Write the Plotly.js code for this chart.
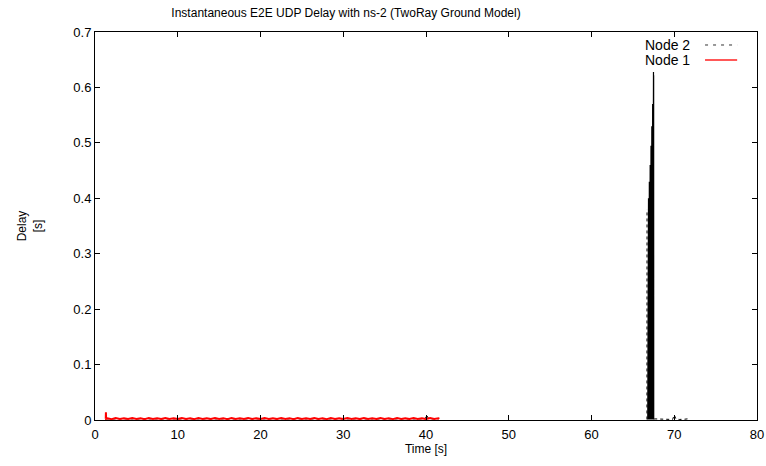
<!DOCTYPE html>
<html>
<head>
<meta charset="utf-8">
<script src="https://cdn.plot.ly/plotly-3.0.1.min.js"></script>
<style>body{margin:0;background:#fff}#chart{width:766px;height:466px}</style>
</head>
<body>
<div id="chart"></div>
<script>
// ---- Data ----
const chartTitle = "Instantaneous E2E UDP Delay with ns-2 (TwoRay Ground Model)";
const xTitle = "Time [s]";
const yTitle = "Delay<br>[s]";
const seriesNames = ["Node 2", "Node 1"];

// Node 1 (red): small delays from ~1.3 s to ~41.6 s
const node1Time = [1.30,1.32,1.34,1.5,2.0,2.5,3.0,3.5,4.0,4.5,5.0,5.5,6.0,6.5,7.0,7.5,8.0,8.5,9.0,9.5,10.0,10.5,11.0,11.5,12.0,12.5,13.0,13.5,14.0,14.5,15.0,15.5,16.0,16.5,17.0,17.5,18.0,18.5,19.0,19.5,20.0,20.5,21.0,21.5,22.0,22.5,23.0,23.5,24.0,24.5,25.0,25.5,26.0,26.5,27.0,27.5,28.0,28.5,29.0,29.5,30.0,30.5,31.0,31.5,32.0,32.5,33.0,33.5,34.0,34.5,35.0,35.5,36.0,36.5,37.0,37.5,38.0,38.5,39.0,39.5,40.0,40.5,41.0,41.5,41.6];
const node1Delay = [0.002,0.014,0.002,0.003,0.0015,0.0035,0.002,0.003,0.0018,0.0036,0.002,0.003,0.0016,0.0034,0.002,0.0032,0.0018,0.0036,0.002,0.003,0.0017,0.0035,0.002,0.0031,0.0016,0.0036,0.0019,0.003,0.0018,0.0034,0.002,0.0031,0.0016,0.0035,0.002,0.003,0.0018,0.0036,0.0019,0.0033,0.0017,0.0036,0.002,0.0031,0.0018,0.0035,0.002,0.0032,0.0016,0.0036,0.002,0.003,0.0018,0.0034,0.0019,0.0031,0.0016,0.0036,0.002,0.0032,0.0018,0.0035,0.0019,0.003,0.0017,0.0036,0.002,0.0031,0.0018,0.0034,0.002,0.0032,0.0016,0.0036,0.0019,0.003,0.0018,0.0035,0.002,0.0031,0.0017,0.0036,0.002,0.0032,0.002];

// Node 2 (black dashed): low delays before and after the burst
const node2Time = [1.40,10.0,20.0,30.0,39.9,40.1,40.3,41.5,null,
  66.70,66.71,null,
  67.58,67.8,68.2,68.6,69.0,69.4,69.8,70.0,70.2,70.6,71.0,71.3,71.6];
const node2Delay = [0.002,0.002,0.002,0.002,0.002,0.009,0.002,0.002,null,
  0.001,0.38,null,
  0.002,0.002,0.001,0.002,0.0015,0.002,0.001,0.009,0.002,0.001,0.002,0.0015,0.002];

// Node 2 burst around 67 s (dense packets, peak near 0.63 s)
const node2BurstTime = [66.80,66.81,66.82,66.83,66.84,66.85,66.86,66.87,66.88,66.89,66.90,66.91,66.92,66.93,66.94,66.95,66.96,66.97,66.98,66.99,67.00,67.01,67.02,67.03,67.04,67.05,67.06,67.07,67.08,67.09,67.10,67.11,67.12,67.13,67.14,67.15,67.16,67.17,67.18,67.19,67.20,67.21,67.22,67.23,67.24,67.25,67.26,67.27,67.28,67.29,67.30,67.31,67.32,67.33,67.34,67.35,67.36,67.37,67.38,67.39,67.40,67.41,67.42,67.43,67.44,67.45,67.46,67.47,67.48,67.49,67.50,67.51,67.52,67.53,67.54,67.55,67.56];
const node2BurstDelay = [0.001,0.38,0.002,0.385,0.001,0.39,0.002,0.395,0.001,0.40,0.002,0.405,0.001,0.41,0.002,0.415,0.001,0.42,0.002,0.43,0.001,0.435,0.002,0.44,0.001,0.45,0.002,0.455,0.001,0.46,0.002,0.47,0.001,0.475,0.002,0.48,0.001,0.49,0.002,0.495,0.001,0.50,0.002,0.51,0.001,0.515,0.002,0.52,0.001,0.53,0.002,0.535,0.001,0.54,0.002,0.55,0.001,0.56,0.002,0.57,0.001,0.58,0.002,0.59,0.001,0.60,0.002,0.615,0.001,0.628,0.002,0.622,0.001,0.612,0.002,0.60,0.002];

const traces = [
  {x: node2Time, y: node2Delay, name: seriesNames[0], legendgroup: "n2", type: "scatter", mode: "lines",
   line: {color: "#000000", width: 1, dash: "3px,3px"}, connectgaps: false, showlegend: false},
  {x: node2BurstTime, y: node2BurstDelay, name: seriesNames[0], legendgroup: "n2", type: "scatter", mode: "lines",
   line: {color: "#000000", width: 1.2}, showlegend: false},
  {x: node1Time, y: node1Delay, name: seriesNames[1], type: "scatter", mode: "lines",
   line: {color: "#ff0000", width: 2}, showlegend: false}
];

const fontFam = "Liberation Sans, Arial, sans-serif";
const axisCommon = {
  showline: true, linecolor: "#000", linewidth: 1, mirror: "ticks",
  ticks: "inside", ticklen: 5, tickcolor: "#000", tickwidth: 1,
  showgrid: false, zeroline: false,
  tickfont: {family: fontFam, size: 13, color: "#000"}
};

const layout = {
  width: 766, height: 466,
  margin: {l: 95, r: 9, t: 32, b: 46},
  paper_bgcolor: "#fff", plot_bgcolor: "#fff",
  title: {text: chartTitle, font: {family: fontFam, size: 12, color: "#000"},
          x: 0.4517, xref: "container", xanchor: "center", y: 0.972, yref: "container", yanchor: "middle"},
  xaxis: Object.assign({}, axisCommon, {range: [0, 80], dtick: 10, tick0: 0, ticklabelstandoff: 2,
          title: {text: xTitle, font: {family: fontFam, size: 12, color: "#000"}, standoff: 1}}),
  yaxis: Object.assign({}, axisCommon, {range: [0, 0.7], dtick: 0.1, tick0: 0,
          title: {text: yTitle, font: {family: fontFam, size: 12, color: "#000"}, standoff: 28}}),
  showlegend: false,
  annotations: [
    {text: seriesNames[0], xref: "paper", yref: "paper", x: 0.902, y: 0.9665, xanchor: "right", yanchor: "middle",
     showarrow: false, font: {family: fontFam, size: 14, color: "#000"}},
    {text: seriesNames[1], xref: "paper", yref: "paper", x: 0.902, y: 0.9278, xanchor: "right", yanchor: "middle",
     showarrow: false, font: {family: fontFam, size: 14, color: "#000"}}
  ],
  shapes: [
    {type: "line", xref: "paper", yref: "paper", x0: 0.9215, x1: 0.970, y0: 0.9665, y1: 0.9665,
     line: {color: "#333", width: 1, dash: "3px,5px"}},
    {type: "line", xref: "paper", yref: "paper", x0: 0.9215, x1: 0.970, y0: 0.9278, y1: 0.9278,
     line: {color: "#ff2020", width: 1.5}}
  ]
};

Plotly.newPlot("chart", traces, layout, {displayModeBar: false, staticPlot: true});
</script>
</body>
</html>
